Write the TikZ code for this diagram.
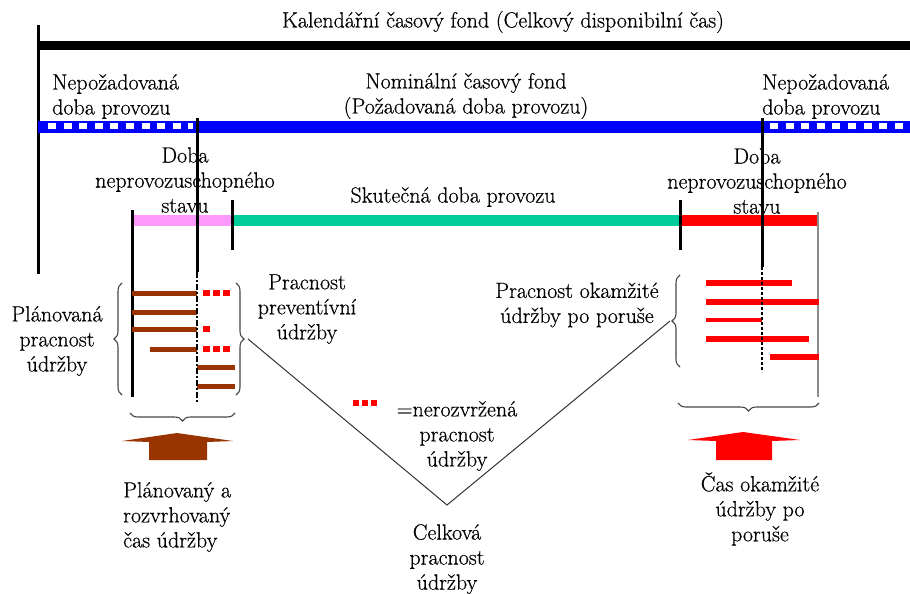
\documentclass[tikz,border=0pt]{standalone}
\usepackage{fontspec}
\newfontfamily\lmx{Latin Modern Roman}[FakeBold=0.5]
\usetikzlibrary{decorations.pathreplacing}
\definecolor{blueb}{RGB}{0,0,255}
\definecolor{pinkb}{RGB}{255,153,250}
\definecolor{greenb}{RGB}{0,204,153}
\definecolor{redb}{RGB}{255,0,0}
\definecolor{brownb}{RGB}{153,51,0}
\definecolor{bracec}{RGB}{70,70,70}
\newcommand{\fs}{\lmx\fontsize{22}{25}\selectfont}
\tikzset{
  txt/.style={font=\fs, align=center, inner sep=0pt},
  txtl/.style={font=\fs, align=left, inner sep=0pt, anchor=west},
  vline/.style={line width=3pt, black},
  timebar/.style={line width=11pt},
  brownbar/.style={line width=5pt, brownb},
  redbar/.style={line width=6pt, redb},
  reddots/.style={line width=5.5pt, redb, dash pattern=on 6.5pt off 3.5pt},
  bracedraw/.style={bracec, line width=1.1pt, decorate, decoration={brace, amplitude=8pt}},
  vconn/.style={line width=1pt, black!80},
}
\begin{document}
\begin{tikzpicture}[x=1pt,y=-1pt]
\useasboundingbox (0,0) rectangle (910,594);
% --- top bars
\draw[line width=9pt, black] (38,45.5) -- (910,45.5);
\draw[vline] (38,25) -- (38,274);
\node[txt] (kal) at (503,22) {Kalendářní časový fond (Celkový disponibilní čas)};
% blue bar with white squares
\draw[line width=12.5pt, blueb] (38,126.75) -- (910,126.75);
\draw[line width=6pt, white, dash pattern=on 8pt off 7.6pt] (48,126) -- (193,126);
\draw[line width=6pt, white, dash pattern=on 8pt off 7.6pt] (770,126) -- (910,126);
\node[txtl] (nepl) at (52,96.5) {Nepožadovaná\\doba provozu};
\node[txt] (nom) at (466,96) {Nominální časový fond\\(Požadovaná doba provozu)};
\node[txtl] (nepr) at (762,96.5) {Nepožadovaná\\doba provozu};
% --- operation bars
\node[txt] (dobal) at (185,180) {Doba\\neprovozuschopného\\stavu};
\node[txt] (dobar) at (757,181) {Doba\\neprovozuschopného\\stavu};
\draw[timebar, pinkb] (132,220.5) -- (232,220.5);
\draw[timebar, greenb] (232,220.5) -- (680,220.5);
\draw[timebar, redb] (680,220.5) -- (819,220.5);
\node[txt] (skut) at (453,197) {Skutečná doba provozu};
\draw[vline] (132,210) -- (132,397);
\draw[vline] (232,200) -- (232,250);
\draw[vline] (680,200) -- (680,250);
\draw[line width=1.6pt, black!45] (818,212) -- (818,397);
% planned maintenance bars
\draw[brownbar] (132,293) -- (197,293);
\draw[reddots] (203,293) -- (233,293);
\draw[brownbar] (132,312) -- (197,312);
\draw[brownbar] (132,329) -- (197,329);
\draw[reddots] (203,329) -- (213,329);
\draw[brownbar] (150,349) -- (197,349);
\draw[reddots] (203,349) -- (233,349);
\draw[brownbar] (197,367) -- (235,367);
\draw[brownbar] (197,386) -- (235,386);
\draw[vline] (197,118) -- (197,272);
\draw[line width=2.5pt, dash pattern=on 6pt off 2pt on 2pt off 2pt] (197,272) -- (197,403);
% corrective maintenance bars
\draw[redbar] (706,283) -- (792,283);
\draw[redbar] (706,302) -- (819,302);
\draw[redbar, line width=4pt] (706,320) -- (762,320);
\draw[redbar] (706,339) -- (809,339);
\draw[redbar] (770,357) -- (819,357);
\draw[vline] (762,118) -- (762,267);
\draw[line width=1.2pt, dash pattern=on 3pt off 2pt] (762,267) -- (762,372);
% --- braces
\draw[bracedraw] (122,395) -- (122,283);
\node[txt] (plan) at (57,341) {Plánovaná\\pracnost\\údržby};
\draw[bracedraw] (236,283) -- (236,395);
\coordinate (pp) at (248,339);
\draw[bracedraw] (680,367) -- (680,275);
\coordinate (po) at (670,321);
\coordinate (vb) at (447,505);
\draw[vconn] (pp) -- (vb) -- (po);
\node[txt] (prev) at (307,309) {Pracnost\\preventívní\\údržby};
\node[txt] (okam) at (577,305) {Pracnost okamžité\\údržby po poruše};
\draw[reddots, dash pattern=on 6pt off 3pt] (353,403) -- (378,403);
\node[txt] (neroz) at (457,436) {=nerozvržená\\pracnost\\údržby};
\node[txt, anchor=north] (celk) at (vb |- 0,524) {Celková\\pracnost\\údržby};
% bottom braces and arrows
\draw[bracedraw] (235,413) -- (130,413);
\draw[bracedraw] (819,403) -- (678,403);
\fill[brownb] (122,441) -- (177,433) -- (233,441) -- (207,442) -- (207,460) -- (149,460) -- (149,442) -- cycle;
\fill[redb] (688,440) -- (743,432) -- (800,440) -- (772,441) -- (772,460) -- (716,460) -- (716,441) -- cycle;
\node[txtl] (planrozv) at (123,517) {Plánovaný a\\rozvrhovaný\\čas údržby};
\node[txt] (casok) at (760,509) {Čas okamžité\\údržby po\\poruše};
\end{tikzpicture}
\end{document}
